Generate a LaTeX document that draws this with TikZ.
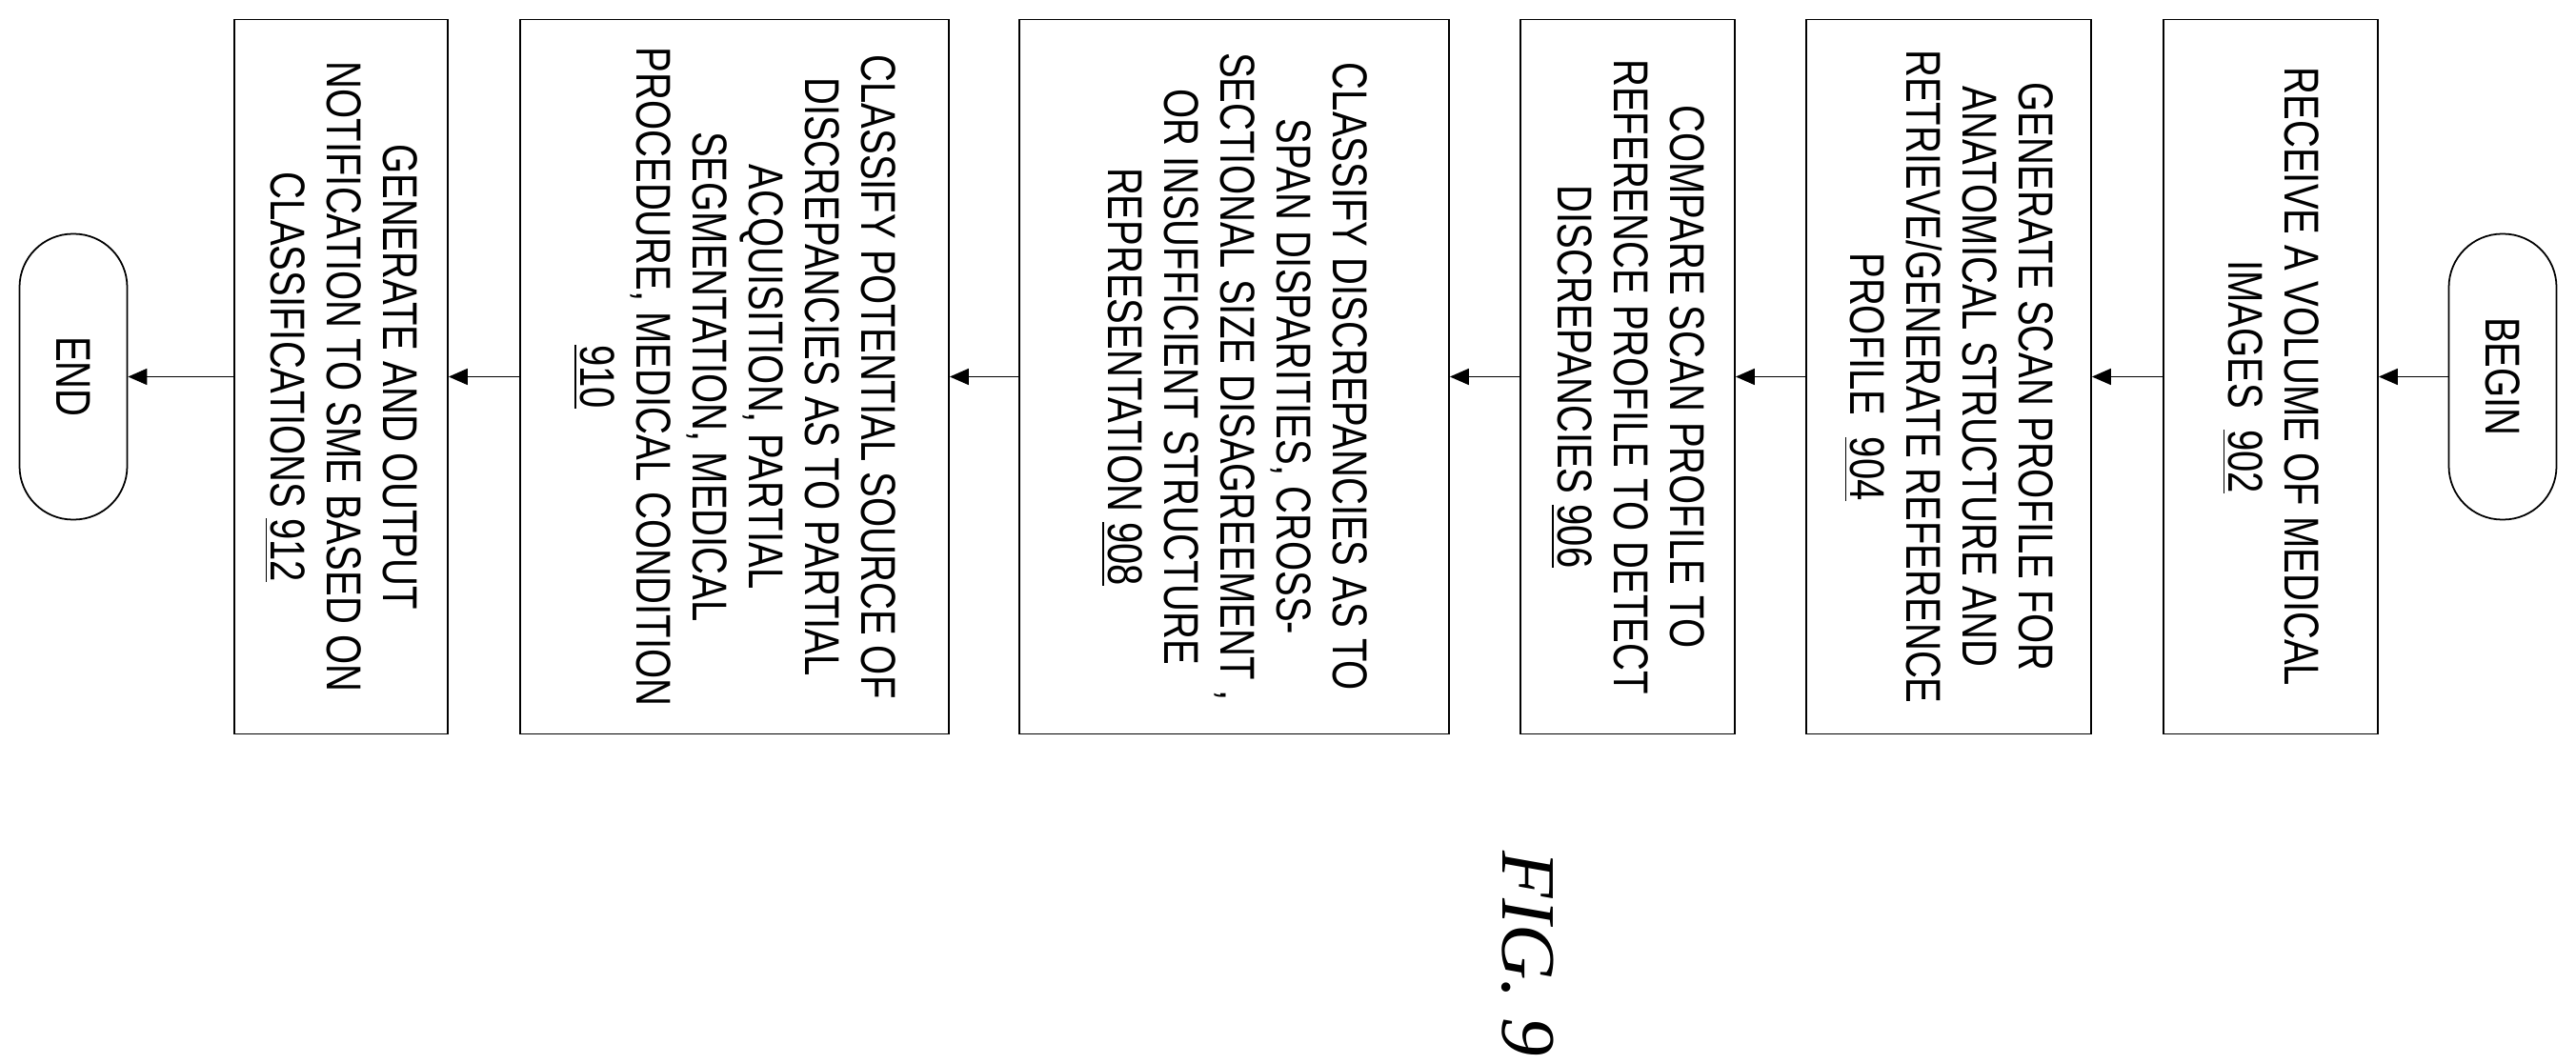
\documentclass[tikz,border=0pt]{standalone}
\usepackage{fontspec}
\setmainfont{Liberation Sans}[FakeStretch=0.78]
\newfontfamily\figfont{Liberation Serif}
\usetikzlibrary{arrows.meta}
\begin{document}
\begin{tikzpicture}[x=1cm,y=1cm,
  box/.style={draw,line width=0.5pt,rotate=-90,minimum width=7.5cm,inner sep=0pt,align=center,
    font=\fontsize{14.6}{16.8}\selectfont},
  term/.style={box,minimum width=3.0cm,minimum height=1.13cm,rounded corners=0.56cm},
  arr/.style={-{Triangle[length=0.2cm,width=0.17cm]},line width=0.5pt}]
\useasboundingbox (0,0) rectangle (27.04,11.16);
\def\cy{7.205}
\node[term] (begin) at (26.27,\cy) {BEGIN};
\node[box,minimum height=2.25cm] (b902) at (23.835,\cy) {RECEIVE A VOLUME OF MEDICAL\\IMAGES\ \ \underline{902}};
\node[box,minimum height=2.99cm] (b904) at (20.455,\cy) {GENERATE SCAN PROFILE FOR\\ANATOMICAL STRUCTURE AND\\RETRIEVE/GENERATE REFERENCE\\PROFILE\ \ \underline{904}};
\node[box,minimum height=2.25cm] (b906) at (17.085,\cy) {COMPARE SCAN PROFILE TO\\REFERENCE PROFILE TO DETECT\\DISCREPANCIES \underline{906}};
\node[box,minimum height=4.51cm] (b908) at (12.955,\cy) {CLASSIFY DISCREPANCIES AS TO\\SPAN DISPARITIES, CROSS-\\SECTIONAL SIZE DISAGREEMENT ,\\OR INSUFFICIENT STRUCTURE\\REPRESENTATION \underline{908}};
\node[box,minimum height=4.5cm] (b910) at (7.71,\cy) {CLASSIFY POTENTIAL SOURCE OF\\DISCREPANCIES AS TO PARTIAL\\ACQUISITION, PARTIAL\\SEGMENTATION, MEDICAL\\PROCEDURE, MEDICAL CONDITION\\\underline{910}};
\node[box,minimum height=2.24cm] (b912) at (3.58,\cy) {GENERATE AND OUTPUT\\NOTIFICATION TO SME BASED ON\\CLASSIFICATIONS \underline{912}};
\node[term] (end) at (0.77,\cy) {END};
\draw[arr] (begin.south) -- (b902.north);
\draw[arr] (b902.south) -- (b904.north);
\draw[arr] (b904.south) -- (b906.north);
\draw[arr] (b906.south) -- (b908.north);
\draw[arr] (b908.south) -- (b910.north);
\draw[arr] (b910.south) -- (b912.north);
\draw[arr] (b912.south) -- (end.north);
\node[rotate=-90,font=\figfont\itshape\fontsize{23}{26}\selectfont] (fig) at (16.04,1.145) {FIG. 9};
\end{tikzpicture}
\end{document}
